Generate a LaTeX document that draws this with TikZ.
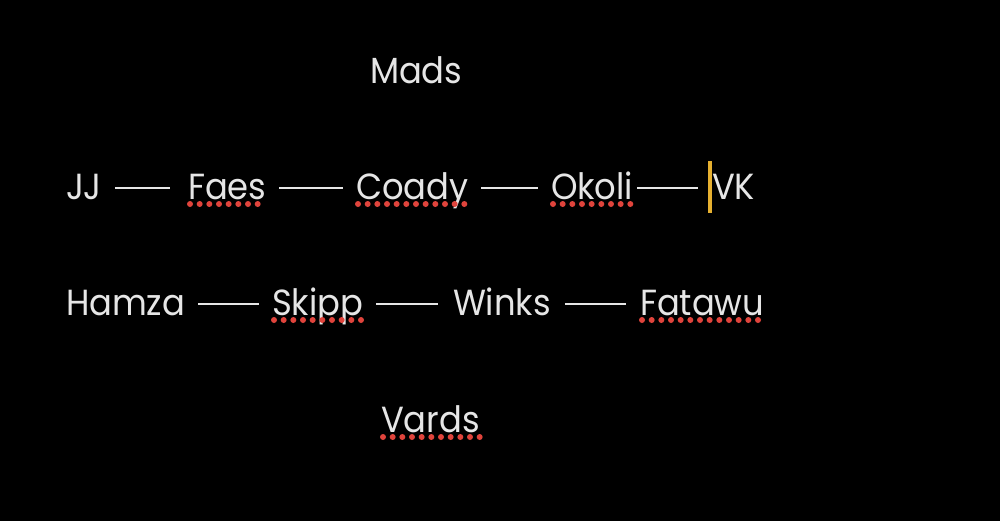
\documentclass[tikz,border=0pt]{standalone}
\usepackage{fontspec}
\setmainfont{Poppins}
\usetikzlibrary{calc}
\definecolor{txt}{HTML}{E6E6E6}
\definecolor{spellred}{HTML}{E0443C}
\definecolor{cursor}{HTML}{E6B030}
\tikzset{
  word/.style={anchor=base west, inner sep=0pt, outer sep=0pt, text=txt, xscale=0.93, font=\fontsize{31}{37}\selectfont},
  link/.style={draw=txt, line width=0.075cm},
  spell/.style={draw=spellred, line width=0.18cm, line cap=round, dash pattern=on 0pt off 0.29cm},
}
\begin{document}
\begin{tikzpicture}[x=0.03cm, y=-0.03cm]
\fill[black] (0,0) rectangle (1000,521);
\useasboundingbox (0,0) rectangle (1000,521);
% words
\node[word] (mads) at (370,83) {Mads};
\node[word] (jj) at (66,199) {JJ};
\node[word] (faes) at (188,199) {Faes};
\node[word] (coady) at (356,199) {Coady};
\node[word] (okoli) at (551,199) {Okoli};
\node[word] (vk) at (712,199) {VK};
\node[word] (hamza) at (66,315) {Hamza};
\node[word] (skipp) at (272,315) {Skipp};
\node[word] (winks) at (453,315) {Winks};
\node[word] (fatawu) at (640,315) {Fatawu};
\node[word] (vards) at (381,432) {Vards};
% connectors (dashes)
\draw[link] ($(jj.base east)+(13,-11)$) -- ($(faes.base west)+(-18,-11)$);
\draw[link] ($(faes.base east)+(13,-11)$) -- ($(coady.base west)+(-13,-11)$);
\draw[link] ($(coady.base east)+(13,-11)$) -- ($(okoli.base west)+(-13,-11)$);
\draw[link] ($(okoli.base east)+(4,-11)$) -- ($(vk.base west)+(-14,-11)$);
\draw[link] ($(hamza.base east)+(13,-11)$) -- ($(skipp.base west)+(-13,-11)$);
\draw[link] ($(skipp.base east)+(13,-11)$) -- ($(winks.base west)+(-15,-11)$);
\draw[link] ($(winks.base east)+(14,-11)$) -- ($(fatawu.base west)+(-14,-11)$);
% spell-check underlines
\foreach \w in {faes,coady,okoli,skipp,fatawu,vards}
  \draw[spell] ($(\w.base west)+(2,5)$) -- ($(\w.base east)+(0,5)$);
% cursor
\coordinate (ctop) at ($(vk.base west)+(-2,-38)$);
\coordinate (cbot) at ($(vk.base west)+(-2,14)$);
\draw[cursor, line width=0.12cm] (ctop) -- (cbot);
\end{tikzpicture}
\end{document}
